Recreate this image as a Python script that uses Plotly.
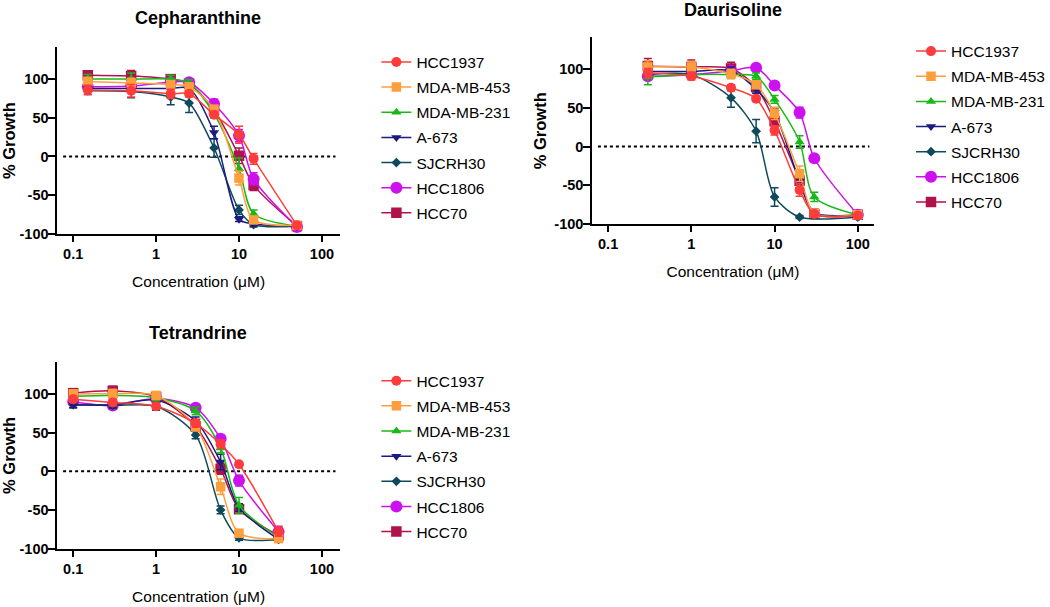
import plotly.graph_objects as go

# ---------------- data ----------------
series_names = ["HCC1937", "MDA-MB-453", "MDA-MB-231", "A-673", "SJCRH30", "HCC1806", "HCC70"]

# Cepharanthine
ceph_conc = [0.15, 0.5, 1.5, 2.5, 5, 10, 15, 50]
ceph_HCC1937 = [86, 85, 81, 81, 54, 28, -3, -89]
ceph_MDAMB453 = [97, 95, 93, 90, 61, -28, -82, -89]
ceph_MDAMB231 = [100, 100, 100, 95, 55, -16, -74, -90]
ceph_A673 = [88, 88, 88, 88, 31, -81, -87, -90]
ceph_SJCRH30 = [85, 84, 77, 69, 11, -69, -88, -90]
ceph_HCC1806 = [90, 91, 96, 96, 68, 27, -29, -91]
ceph_HCC70 = [105, 104, 100, 94, 60, 1, -37, -90]
ceph_err_HCC1937 = [6, 8, 6, 4, 4, 11, 7, 3]
ceph_err_MDAMB453 = [5, 6, 5, 4, 5, 9, 4, 2]
ceph_err_MDAMB231 = [6, 8, 5, 4, 5, 14, 5, 2]
ceph_err_A673 = [4, 5, 4, 3, 8, 3, 3, 2]
ceph_err_SJCRH30 = [5, 8, 10, 12, 12, 6, 3, 2]
ceph_err_HCC1806 = [4, 6, 5, 4, 6, 8, 8, 2]
ceph_err_HCC70 = [5, 7, 5, 4, 6, 10, 7, 2]

# Daurisoline
daur_conc = [0.3, 1, 3, 6, 10, 20, 30, 100]
daur_HCC1937 = [95, 91, 76, 62, 21, -56, -87, -89]
daur_MDAMB453 = [103, 103, 94, 80, 43, -35, -86, -88]
daur_MDAMB231 = [90, 93, 93, 91, 61, 6, -65, -88]
daur_A673 = [97, 97, 98, 74, 44, -45, -85, -88]
daur_SJCRH30 = [93, 93, 63, 20, -65, -91, None, -91]
daur_HCC1806 = [91, 93, 98, 102, 79, 44, -15, -88]
daur_HCC70 = [104, 103, 101, 77, 33, -44, -87, -88]
daur_err_HCC1937 = [6, 5, 4, 3, 6, 8, 4, 2]
daur_err_MDAMB453 = [8, 7, 6, 5, 8, 10, 4, 2]
daur_err_MDAMB231 = [10, 5, 5, 4, 5, 8, 6, 2]
daur_err_A673 = [5, 5, 5, 5, 6, 8, 4, 2]
daur_err_SJCRH30 = [4, 5, 12, 15, 12, 2, 0, 2]
daur_err_HCC1806 = [4, 4, 4, 3, 3, 7, 4, 2]
daur_err_HCC70 = [10, 9, 8, 6, 7, 9, 4, 2]

# Tetrandrine
tetr_conc = [0.1, 0.3, 1, 3, 6, 10, 30]
tetr_HCC1937 = [93, 89, 84, 62, 35, 9, -78]
tetr_MDAMB453 = [100, 100, 98, 58, -20, -80, -87]
tetr_MDAMB231 = [97, 98, 95, 78, 30, -44, -85]
tetr_A673 = [86, 86, 92, 65, 12, -47, -88]
tetr_SJCRH30 = [86, 85, 84, 47, -50, -86, -88]
tetr_HCC1806 = [90, 85, 94, 82, 42, -12, -78]
tetr_HCC70 = [101, 104, 96, 58, 3, -49, -83]
tetr_err_HCC1937 = [4, 4, 4, 5, 5, 3, 6]
tetr_err_MDAMB453 = [5, 6, 4, 6, 10, 4, 4]
tetr_err_MDAMB231 = [4, 5, 4, 5, 6, 10, 3]
tetr_err_A673 = [4, 4, 8, 5, 10, 5, 3]
tetr_err_SJCRH30 = [4, 4, 5, 5, 5, 3, 2]
tetr_err_HCC1806 = [4, 4, 4, 4, 5, 7, 7]
tetr_err_HCC70 = [5, 6, 4, 5, 7, 5, 6]

x_tick_vals = [0.1, 1, 10, 100]
x_tick_text = ["0.1", "1", "10", "100"]
y_tick_vals = [-100, -50, 0, 50, 100]
y_tick_text = ["-100", "-50", "0", "50", "100"]

# ---------------- styling ----------------
colors = ["#FF3B3B", "#FF9E3D", "#18B818", "#1B1B80", "#0E4A5C", "#CC11EE", "#B0124B"]
symbols = ["circle", "square", "triangle-up", "triangle-down", "diamond", "circle", "square"]
sizes = [10, 9.5, 9, 9, 7.5, 12, 10.5]

F = "Arial, Liberation Sans, sans-serif"
W, H = 1050, 607

panels = [
    dict(title="Cepharanthine", conc=ceph_conc,
         ys=[ceph_HCC1937, ceph_MDAMB453, ceph_MDAMB231, ceph_A673, ceph_SJCRH30, ceph_HCC1806, ceph_HCC70],
         errs=[ceph_err_HCC1937, ceph_err_MDAMB453, ceph_err_MDAMB231, ceph_err_A673, ceph_err_SJCRH30, ceph_err_HCC1806, ceph_err_HCC70],
         xd=(58, 343), yd=(48, 237), xr=(-1.19, 2.215), tpos=(200, 18), leg=(380, 46)),
    dict(title="Daurisoline", conc=daur_conc,
         ys=[daur_HCC1937, daur_MDAMB453, daur_MDAMB231, daur_A673, daur_SJCRH30, daur_HCC1806, daur_HCC70],
         errs=[daur_err_HCC1937, daur_err_MDAMB453, daur_err_MDAMB231, daur_err_A673, daur_err_SJCRH30, daur_err_HCC1806, daur_err_HCC70],
         xd=(598, 882), yd=(38, 227), xr=(-1.19, 2.19), tpos=(740, 10), leg=(920, 35)),
    dict(title="Tetrandrine", conc=tetr_conc,
         ys=[tetr_HCC1937, tetr_MDAMB453, tetr_MDAMB231, tetr_A673, tetr_SJCRH30, tetr_HCC1806, tetr_HCC70],
         errs=[tetr_err_HCC1937, tetr_err_MDAMB453, tetr_err_MDAMB231, tetr_err_A673, tetr_err_SJCRH30, tetr_err_HCC1806, tetr_err_HCC70],
         xd=(58, 343), yd=(367, 556), xr=(-1.19, 2.215), tpos=(200, 337), leg=(380, 369)),
]

fig = go.Figure()
layout = dict(width=W, height=H, margin=dict(l=0, r=0, t=0, b=0),
              paper_bgcolor="white", plot_bgcolor="white",
              font=dict(family=F, color="black"), annotations=[], shapes=[])

for k, p in enumerate(panels):
    sfx = "" if k == 0 else str(k + 1)
    leg_name = "legend" + sfx
    for i in reversed(range(len(series_names))):
        fig.add_trace(go.Scatter(
            x=p["conc"], y=p["ys"][i],
            error_y=dict(type="data", array=p["errs"][i], color=colors[i], thickness=1.5, width=4),
            mode="lines+markers",
            line=dict(color=colors[i], width=1.5, shape="spline", smoothing=0.8),
            marker=dict(symbol=symbols[i], size=sizes[i], color=colors[i]),
            name=series_names[i], legend=leg_name, legendrank=i + 1,
            legendgroup=f"{k}-{series_names[i]}",
            connectgaps=True, cliponaxis=False,
            xaxis="x" + sfx, yaxis="y" + sfx,
        ))
    layout["xaxis" + sfx] = dict(
        type="log", range=list(p["xr"]), domain=[p["xd"][0] / W, p["xd"][1] / W],
        anchor="y" + sfx, tickvals=x_tick_vals, ticktext=x_tick_text,
        ticks="outside", ticklen=6, tickwidth=2, tickcolor="black",
        showline=True, linewidth=2, linecolor="black", showgrid=False, zeroline=False,
        tickfont=dict(family=F, size=14.5, weight="bold", color="black"),
        title=dict(text="Concentration (μM)", font=dict(family=F, size=15.5, color="black"), standoff=15),
    )
    layout["yaxis" + sfx] = dict(
        range=[-100, 141], domain=[1 - p["yd"][1] / H, 1 - p["yd"][0] / H],
        anchor="x" + sfx, tickvals=y_tick_vals, ticktext=y_tick_text,
        ticks="outside", ticklen=7, tickwidth=2, tickcolor="black",
        showline=True, linewidth=2, linecolor="black", showgrid=False, zeroline=False,
        tickfont=dict(family=F, size=14.5, weight="bold", color="black"),
        ticklabelstandoff=-3,
        title=dict(text="% Growth", font=dict(family=F, size=16.5, weight="bold", color="black"), standoff=4),
    )
    layout[leg_name] = dict(
        x=p["leg"][0] / W, y=1 - p["leg"][1] / H, xanchor="left", yanchor="top",
        font=dict(family=F, size=15.5, color="black"), bgcolor="rgba(0,0,0,0)",
        tracegroupgap=2, traceorder="grouped",
    )
    layout["annotations"].append(dict(
        text="<b>" + p["title"] + "</b>", x=p["tpos"][0] / W, y=1 - p["tpos"][1] / H,
        xref="paper", yref="paper", xanchor="center", yanchor="middle", showarrow=False,
        font=dict(family=F, size=18, color="black"),
    ))
    layout["shapes"].append(dict(
        type="line", xref=("x" + sfx) + " domain", yref="y" + sfx,
        x0=0.02, x1=0.985, y0=0, y1=0, layer="below",
        line=dict(color="black", width=2, dash="dot"),
    ))

fig.update_layout(**layout)
fig.write_html("out.html", config={"displayModeBar": False},
               post_script="document.body.style.margin='0px';")
